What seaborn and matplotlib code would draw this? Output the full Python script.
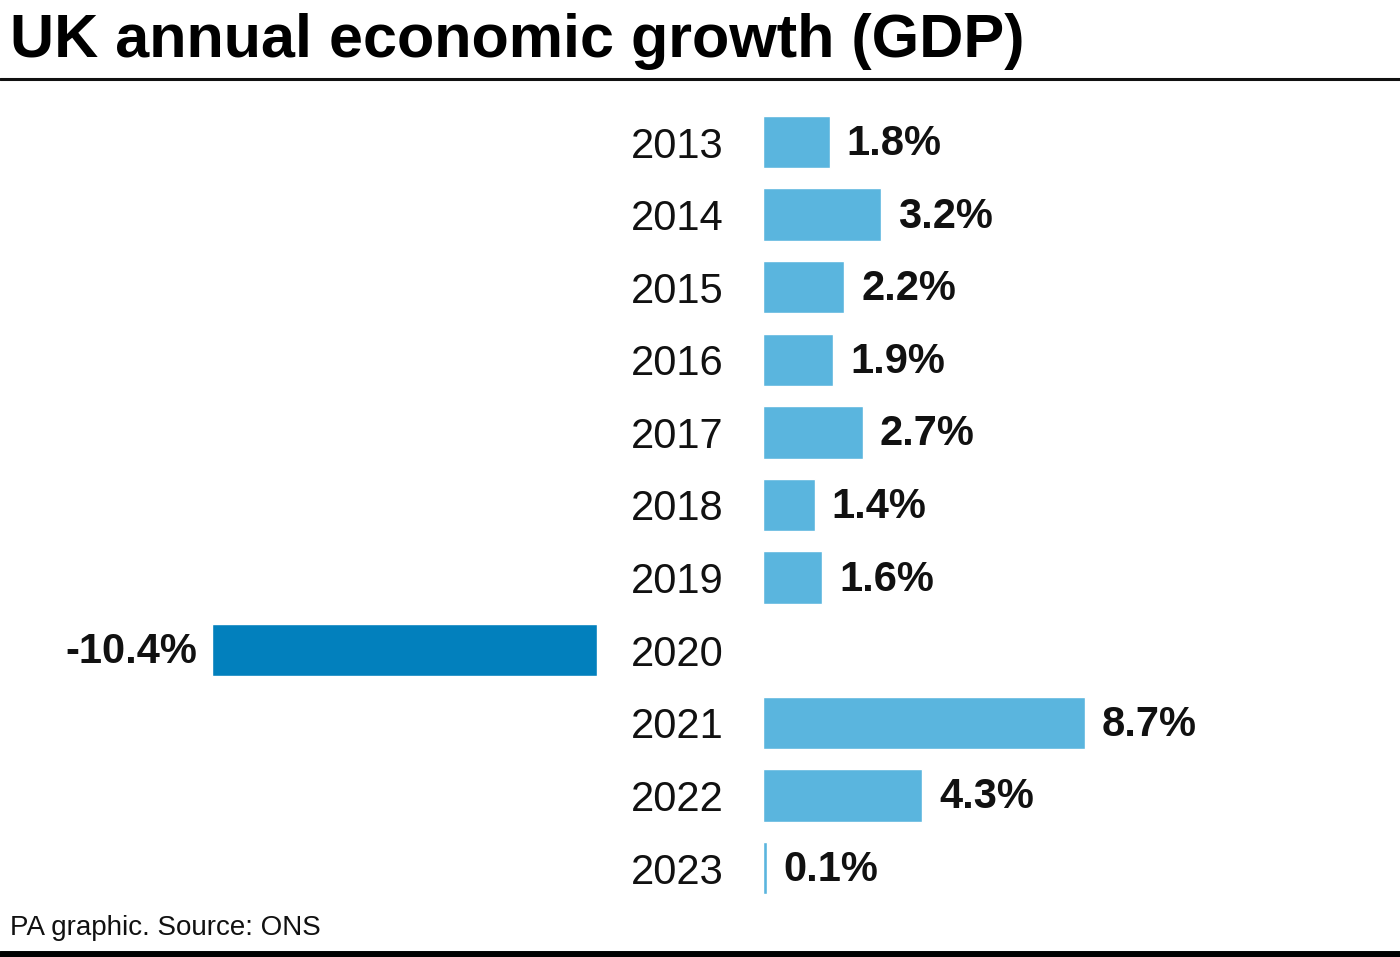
import matplotlib
matplotlib.use("Agg")
import matplotlib.pyplot as plt
import seaborn as sns
import pandas as pd
from matplotlib.lines import Line2D

years = ["2013", "2014", "2015", "2016", "2017", "2018", "2019", "2020", "2021", "2022", "2023"]
growth = [1.8, 3.2, 2.2, 1.9, 2.7, 1.4, 1.6, -10.4, 8.7, 4.3, 0.1]

title = "UK annual economic growth (GDP)"
source = "PA graphic. Source: ONS"

light_blue = "#5ab5de"
dark_blue = "#0280bd"

sns.set_theme(style="white")
plt.rcParams["font.family"] = ["Liberation Sans", "DejaVu Sans"]

df = pd.DataFrame({"year": years, "growth": growth})
df_pos = df[df["growth"] >= 0]
df_neg = df[df["growth"] < 0]

W, H = 1400, 957
fig = plt.figure(figsize=(W / 100, H / 100), dpi=100)

top = 1 - 105.7 / H
bottom = 1 - 904.3 / H
scale = 37.0  # px per percent

# right axes (positive)
x0r = 763 / W
axr = fig.add_axes([x0r, bottom, 1 - x0r, top - bottom])
sns.barplot(data=df_pos, y="year", x="growth", order=years, orient="h",
            color=light_blue, width=0.72, ax=axr, saturation=1)
axr.set_xlim(0, (W - 763) / scale)
axr.set_ylim(len(years) - 0.5, -0.5)

# left axes (negative)
xr_left = 597 / W
axl = fig.add_axes([0, bottom, xr_left, top - bottom])
sns.barplot(data=df_neg, y="year", x="growth", order=years, orient="h",
            color=dark_blue, width=0.72, ax=axl, saturation=1)
axl.set_xlim(-597 / scale, 0)
axl.set_ylim(len(years) - 0.5, -0.5)

for ax in (axr, axl):
    for s in ax.spines.values():
        s.set_visible(False)
    ax.set_xlabel("")
    ax.set_ylabel("")
    ax.set_xticks([])
    ax.patch.set_alpha(0)

axl.set_yticks([])
axr.tick_params(axis="y", length=0, pad=86 * 0.72)
for lab in axr.get_yticklabels():
    lab.set_horizontalalignment("center")
    lab.set_fontsize(30)
    lab.set_color("#111111")

for c in axr.containers:
    for t in axr.bar_label(c, fmt="%.1f%%", padding=17 * 0.72, fontsize=30,
                           fontweight="bold", color="#111111"):
        t.xyann = (t.xyann[0], -1.5)
for c in axl.containers:
    for t in axl.bar_label(c, fmt="%.1f%%", padding=15 * 0.72, fontsize=30,
                           fontweight="bold", color="#111111"):
        t.xyann = (t.xyann[0], -1.5)

fig.text(10 / W, 1 - 57 / H, title, fontsize=44, fontweight="bold",
         va="baseline", ha="left", color="#000000")
fig.add_artist(Line2D([0, 1], [1 - 79 / H, 1 - 79 / H], color="#111111", lw=2.2,
                      transform=fig.transFigure))
fig.add_artist(Line2D([0, 1], [1 - 954 / H, 1 - 954 / H], color="#000000", lw=5,
                      transform=fig.transFigure))
fig.text(10 / W, 1 - 935 / H, source, fontsize=20, va="baseline", ha="left",
         color="#111111")

fig.savefig("out.png", dpi=100)
